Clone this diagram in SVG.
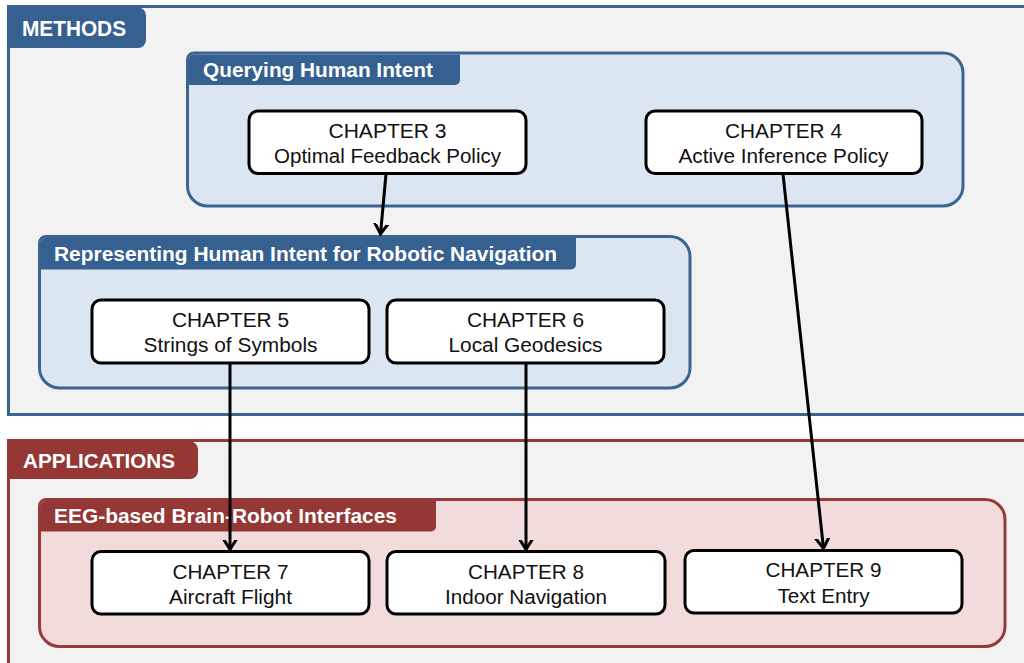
<svg xmlns="http://www.w3.org/2000/svg" width="1024" height="663" viewBox="0 0 1024 663">
  <defs>
    <style>
      .sec { fill: #f2f2f2; stroke-width: 3; }
      .blue { stroke: #3a6591; }
      .red { stroke: #963b39; }
      .tabB { fill: #36608f; }
      .tabR { fill: #953735; }
      .grpB { fill: #dce6f2; stroke: #3a6591; stroke-width: 3; }
      .grpR { fill: #f2dcdb; stroke: #963b39; stroke-width: 3; }
      .title { font-family: "Liberation Sans", Arial, sans-serif; font-weight: bold; fill: #ffffff; }
      .node rect { fill: #ffffff; stroke: #000000; stroke-width: 3; }
      .node text { font-family: "Liberation Sans", Arial, sans-serif; font-size: 19.5px; fill: #111111; text-anchor: middle; }
      .edge { fill: none; stroke: #000000; stroke-width: 3; }
    </style>
    <marker id="arrow" markerUnits="userSpaceOnUse" markerWidth="20" markerHeight="20" viewBox="-10 -10 20 20" refX="0" refY="0" orient="auto">
      <path d="M -12,-7.5 L 0,0 L -12,7.5" fill="none" stroke="#000000" stroke-width="3" stroke-linejoin="miter"/>
    </marker>
  </defs>

  <rect width="1024" height="663" fill="#ffffff"/>

  <!-- METHODS section -->
  <g id="methods">
    <rect class="sec blue" x="8.5" y="6.5" width="1030" height="408"/>
    <path class="tabB" d="M7,7.5 H138 A8,8 0 0 1 146,15.5 V40 A8,8 0 0 1 138,48 H7 Z"/>
    <text class="title" x="22" y="36" font-size="21.5" textLength="104" lengthAdjust="spacingAndGlyphs">METHODS</text>
  </g>

  <!-- APPLICATIONS section -->
  <g id="applications">
    <rect class="sec red" x="8.5" y="440.5" width="1030" height="240"/>
    <path class="tabR" d="M7,441.5 H190 A8,8 0 0 1 198,449.5 V471 A8,8 0 0 1 190,479 H7 Z"/>
    <text class="title" x="23" y="468" font-size="21" textLength="152" lengthAdjust="spacingAndGlyphs">APPLICATIONS</text>
  </g>

  <!-- Querying Human Intent group -->
  <g id="querying">
    <path class="grpB" d="M194,53 H943 A20,20 0 0 1 963,73 V186 A20,20 0 0 1 943,206 H207.5 A20,20 0 0 1 187.5,186 V59.5 A6.5,6.5 0 0 1 194,53 Z"/>
    <path class="tabB" d="M194,54.5 H460 V80 A5,5 0 0 1 455,85 H189 V59.5 A5,5 0 0 1 194,54.5 Z"/>
    <text class="title" x="203" y="77" font-size="19.5" textLength="230" lengthAdjust="spacingAndGlyphs">Querying Human Intent</text>
  </g>

  <!-- Representing Human Intent group -->
  <g id="representing">
    <path class="grpB" d="M45.5,236.5 H670 A20,20 0 0 1 690,256.5 V368 A20,20 0 0 1 670,388 H59.5 A20,20 0 0 1 39.5,368 V243 A6.5,6.5 0 0 1 45.5,236.5 Z"/>
    <path class="tabB" d="M45.5,238 H576 V264.5 A5,5 0 0 1 571,269.5 H41 V243 A5,5 0 0 1 45.5,238 Z"/>
    <text class="title" x="54" y="260.5" font-size="19.5" textLength="503" lengthAdjust="spacingAndGlyphs">Representing Human Intent for Robotic Navigation</text>
  </g>

  <!-- EEG-based Brain-Robot Interfaces group -->
  <g id="eeg">
    <path class="grpR" d="M45.5,499.5 H985 A20,20 0 0 1 1005,519.5 V626.5 A20,20 0 0 1 985,646.5 H59.5 A20,20 0 0 1 39.5,626.5 V506 A6.5,6.5 0 0 1 45.5,499.5 Z"/>
    <path class="tabR" d="M45.5,501 H436 V526.5 A5,5 0 0 1 431,531.5 H41 V506 A5,5 0 0 1 45.5,501 Z"/>
    <text class="title" x="54" y="522.5" font-size="19.5" textLength="343" lengthAdjust="spacingAndGlyphs">EEG-based Brain-Robot Interfaces</text>
  </g>

  <!-- Chapter nodes -->
  <g id="ch3" class="node">
    <rect x="249" y="111" width="277" height="62.5" rx="9"/>
    <text x="387.5" y="138" textLength="118" lengthAdjust="spacingAndGlyphs">CHAPTER 3</text>
    <text x="387.5" y="163" textLength="227" lengthAdjust="spacingAndGlyphs">Optimal Feedback Policy</text>
  </g>
  <g id="ch4" class="node">
    <rect x="646" y="111" width="276" height="62.5" rx="9"/>
    <text x="783.5" y="138" textLength="117" lengthAdjust="spacingAndGlyphs">CHAPTER 4</text>
    <text x="783.5" y="163" textLength="210" lengthAdjust="spacingAndGlyphs">Active Inference Policy</text>
  </g>
  <g id="ch5" class="node">
    <rect x="92" y="300" width="277" height="63" rx="9"/>
    <text x="230.5" y="326.5" textLength="117" lengthAdjust="spacingAndGlyphs">CHAPTER 5</text>
    <text x="230.5" y="352" textLength="174" lengthAdjust="spacingAndGlyphs">Strings of Symbols</text>
  </g>
  <g id="ch6" class="node">
    <rect x="387" y="300" width="277" height="63" rx="9"/>
    <text x="525.5" y="326.5" textLength="117" lengthAdjust="spacingAndGlyphs">CHAPTER 6</text>
    <text x="525.5" y="352" textLength="154" lengthAdjust="spacingAndGlyphs">Local Geodesics</text>
  </g>
  <g id="ch7" class="node">
    <rect x="92" y="551.5" width="277" height="62.5" rx="9"/>
    <text x="230.5" y="578.5" textLength="116" lengthAdjust="spacingAndGlyphs">CHAPTER 7</text>
    <text x="230.5" y="603.5" textLength="123" lengthAdjust="spacingAndGlyphs">Aircraft Flight</text>
  </g>
  <g id="ch8" class="node">
    <rect x="387" y="551.5" width="278" height="62.5" rx="9"/>
    <text x="526" y="578.5" textLength="116" lengthAdjust="spacingAndGlyphs">CHAPTER 8</text>
    <text x="526" y="603.5" textLength="162" lengthAdjust="spacingAndGlyphs">Indoor Navigation</text>
  </g>
  <g id="ch9" class="node">
    <rect x="685" y="550.5" width="277" height="62.5" rx="9"/>
    <text x="823.5" y="577" textLength="116" lengthAdjust="spacingAndGlyphs">CHAPTER 9</text>
    <text x="823.5" y="602.5" textLength="92" lengthAdjust="spacingAndGlyphs">Text Entry</text>
  </g>

  <!-- Connectors -->
  <g id="connectors">
    <line class="edge" x1="386" y1="174" x2="380.5" y2="234" marker-end="url(#arrow)"/>
    <line class="edge" x1="783" y1="174" x2="823.5" y2="548.5" marker-end="url(#arrow)"/>
    <line class="edge" x1="230" y1="363" x2="230" y2="549.5" marker-end="url(#arrow)"/>
    <line class="edge" x1="526" y1="363" x2="526" y2="549.5" marker-end="url(#arrow)"/>
  </g>
</svg>
